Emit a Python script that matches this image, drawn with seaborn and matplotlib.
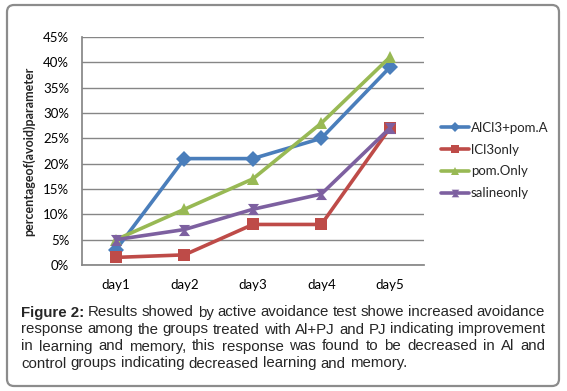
import pandas as pd
import matplotlib.pyplot as plt
import seaborn as sns
from matplotlib.patches import FancyBboxPatch

# Data
DAYS = ["day1", "day2", "day3", "day4", "day5"]
ALCL3_POM = [3, 21, 21, 25, 39]
LCL3_ONLY = [1.5, 2, 8, 8, 27]
POM_ONLY = [5, 11, 17, 28, 41]
SALINE_ONLY = [5, 7, 11, 14, 27]
SERIES = ["AlCl3+pom.A", "lCl3only", "pom.Only", "salineonly"]

COLORS = {"AlCl3+pom.A": "#4A7EBB", "lCl3only": "#BE4B48",
          "pom.Only": "#98B954", "salineonly": "#7D60A0"}
HOURGLASS = [(-1, 1), (1, 1), (0.25, 0), (1, -1), (-1, -1), (-0.25, 0)]
MARKERS = {"AlCl3+pom.A": "D", "lCl3only": "s", "pom.Only": "^", "salineonly": HOURGLASS}

CAPTION = [
    "Figure 2: Results showed by active avoidance test showe increased avoidance",
    "response among the groups treated with Al+PJ and PJ indicating improvement",
    "in learning and memory, this response was found to be decreased in Al and",
    "control groups indicating decreased learning and memory.",
]

W, H = 567, 391

rows = []
for name, vals in zip(SERIES, [ALCL3_POM, LCL3_ONLY, POM_ONLY, SALINE_ONLY]):
    for d, v in zip(DAYS, vals):
        rows.append({"day": d, "value": v, "group": name})
df = pd.DataFrame(rows)

sns.set_theme(style="white")
plt.rcParams["font.family"] = ["Lato", "DejaVu Sans"]

fig = plt.figure(figsize=(W / 100, H / 100), dpi=100)

# background overlay in pixel coordinates: border + caption
bg = fig.add_axes([0, 0, 1, 1], zorder=0)
bg.set_xlim(0, W)
bg.set_ylim(H, 0)
bg.axis("off")
bg.add_patch(FancyBboxPatch((7, 5), 552, 381, boxstyle="round,pad=0,rounding_size=7",
                            fill=False, edgecolor="#8c8c8c", linewidth=1.6))

ax = fig.add_axes([81.75 / W, 1 - 265 / H, (424 - 81.75) / W, (265 - 37) / H], zorder=1)
ax.patch.set_alpha(0)
sns.lineplot(data=df, x="day", y="value", hue="group", style="group",
             palette=COLORS, markers=MARKERS, dashes=False, linewidth=2.6,
             markersize=8, markeredgewidth=0, ax=ax)

ax.set_xlim(-0.5, 4.5)
ax.set_ylim(0, 45)
ax.set_yticks(range(0, 46, 5))
ax.set_yticklabels([f"{v}%" for v in range(0, 46, 5)])
ax.yaxis.grid(True, color="#868686", linewidth=1)
ax.xaxis.grid(False)
for s in ["top", "right"]:
    ax.spines[s].set_visible(False)
ax.spines["left"].set_color("#868686")
ax.spines["bottom"].set_color("#868686")
ax.tick_params(axis="both", length=0, labelsize=9.5, colors="#000000")
ax.tick_params(axis="y", pad=9)
ax.tick_params(axis="x", pad=10)
ax.set_xlabel("")
ax.set_ylabel("percentageof(avoid)parameter", fontsize=9, fontweight="bold", labelpad=6)

handles, labels = ax.get_legend_handles_labels()
leg = ax.legend(handles, labels, loc="center left", bbox_to_anchor=(441 / W, 1 - 160.5 / H),
                bbox_transform=fig.transFigure, frameon=False, fontsize=9.5,
                handlelength=2.1, handletextpad=0.15, labelspacing=0.75, borderpad=0,
                borderaxespad=0)
for h in leg.legend_handles:
    h.set_markersize(5.5)

# justified caption, font size fitted so line 2 has natural spacing
renderer = fig.canvas.get_renderer()
fam = ["Liberation Sans", "DejaVu Sans"]
left, right = 21, 545
probe = bg.text(0, 0, CAPTION[1], fontsize=10, family=fam)
fsize = 10 * (right - left) / probe.get_window_extent(renderer).width
probe.remove()

ys = [316.5, 333.5, 350.5, 367.5]
for i, (line, y) in enumerate(zip(CAPTION, ys)):
    words = line.split(" ")
    if i == 0:
        words = ["Figure 2:"] + words[2:]
    items = []
    for j, wd in enumerate(words):
        bold = (i == 0 and j == 0)
        t = bg.text(0, y, wd, fontsize=fsize, family=fam,
                    fontweight="bold" if bold else "normal", va="baseline", ha="left")
        items.append(t)
    widths = [t.get_window_extent(renderer).width for t in items]
    if i < len(CAPTION) - 1:
        gap = (right - left - sum(widths)) / (len(items) - 1)
    else:
        gap = fsize * 100 / 72 * 0.278
    x = left
    for t, w in zip(items, widths):
        t.set_x(x)
        x += w + gap

fig.savefig("out.png", dpi=100)
